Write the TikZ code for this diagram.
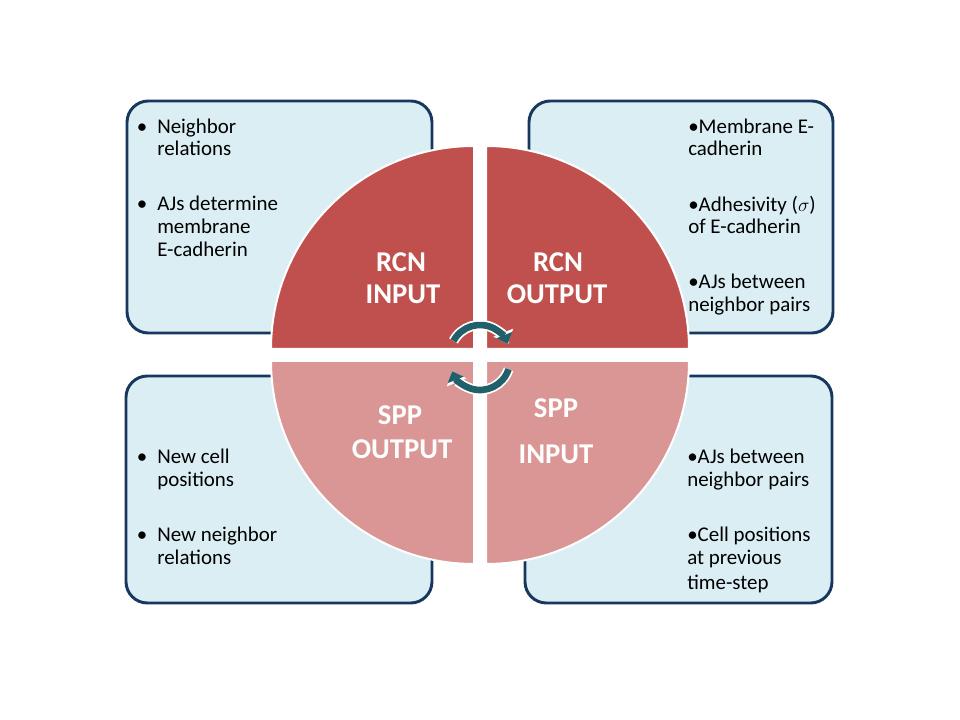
\documentclass[tikz,border=0pt]{standalone}
\usepackage{fontspec}
\setmainfont{Carlito}
\usetikzlibrary{arrows.meta}
\definecolor{quadtopc}{HTML}{C0504D}
\definecolor{quadbotc}{HTML}{D99694}
\definecolor{boxfillc}{HTML}{DBEEF4}
\definecolor{boxdrawc}{HTML}{17375E}
\definecolor{tealc}{HTML}{215F6B}
\tikzset{
  infobox/.style={fill=boxfillc, draw=boxdrawc, line width=2.2pt, rounded corners=16pt},
  quadtop/.style={fill=quadtopc, draw=white, line width=1.5pt},
  quadbot/.style={fill=quadbotc, draw=white, line width=1.5pt},
  txt/.style={anchor=base west, inner sep=0pt, text=black, font=\fontsize{15.7}{18}\selectfont},
  lbl/.style={anchor=base, inner sep=0pt, text=white, font=\fontsize{21.5}{25}\selectfont\bfseries},
  cyclearrow/.style={draw=tealc, line width=5pt, -{Triangle[length=7pt,width=12.5pt]},
    preaction={draw=white, line width=7.6pt, -{Triangle[length=9pt,width=15.5pt]}}}
}
\newcommand{\bul}{\llap{•\hspace{7.5pt}}}
\begin{document}
\begin{tikzpicture}[x=0.75pt,y=0.75pt]
\fill[white] (0,0) rectangle (960,720);
\useasboundingbox (0,0) rectangle (960,720);
% boxes
\draw[infobox] (127,387) rectangle (432,619);
\draw[infobox] (529,387) rectangle (833,619);
\draw[infobox] (126,117) rectangle (432,344);
\draw[infobox] (525,117) rectangle (832,344);
% quadrants
\path[quadtop] (474,371) -- (271,371) arc[start angle=180,end angle=90,radius=203] -- cycle;
\path[quadtop] (486,371) -- (689,371) arc[start angle=0,end angle=90,radius=203] -- cycle;
\path[quadbot] (474,359) -- (271,359) arc[start angle=180,end angle=270,radius=203] -- cycle;
\path[quadbot] (486,359) -- (689,359) arc[start angle=0,end angle=-90,radius=203] -- cycle;
% quadrant labels
\node[lbl] (rcnin1) at (401,448.5) {RCN};
\node[lbl] (rcnin2) at (403,416.5) {INPUT};
\node[lbl] (rcnout1) at (558,448.5) {RCN};
\node[lbl] (rcnout2) at (557,416.5) {OUTPUT};
\node[lbl] (sppout1) at (400,295.5) {SPP};
\node[lbl] (sppout2) at (402,261.5) {OUTPUT};
\node[lbl] (sppin1) at (556,302.5) {SPP};
\node[lbl] (sppin2) at (556,256.5) {INPUT};
% cycle arrows
\coordinate (ca) at (480,365);
\coordinate (cb) at (480,360);
\draw[cyclearrow] (ca) ++(152:30) arc[start angle=152,end angle=22,radius=30];
\draw[cyclearrow] (cb) ++(-18:30) arc[start angle=-18,end angle=-158,radius=30];
% top-left box text
\node[txt] (tl1) at (157,586.5) {\bul Neighbor};
\node[txt] (tl2) at (157,564.5) {relations};
\node[txt] (tl3) at (157,509.5) {\bul AJs determine};
\node[txt] (tl4) at (157,486.5) {membrane};
\node[txt] (tl5) at (157,463) {E-cadherin};
% top-right box text
\node[txt] (tr1) at (688,586.5) {•Membrane E-};
\node[txt] (tr2) at (688,564.5) {cadherin};
\node[txt] (tr3) at (688,508.5) {•Adhesivity ($\sigma$)};
\node[txt] (tr4) at (688,486.5) {of E-cadherin};
\node[txt] (tr5) at (688,431.5) {•AJs between};
\node[txt] (tr6) at (688,408.5) {neighbor pairs};
% bottom-left box text
\node[txt] (bl1) at (157,256.5) {\bul New cell};
\node[txt] (bl2) at (157,233.5) {positions};
\node[txt] (bl3) at (157,178.5) {\bul New neighbor};
\node[txt] (bl4) at (157,155) {relations};
% bottom-right box text
\node[txt] (br1) at (687,256.5) {•AJs between};
\node[txt] (br2) at (687,233.5) {neighbor pairs};
\node[txt] (br3) at (687,178.5) {•Cell positions};
\node[txt] (br4) at (687,155) {at previous};
\node[txt] (br5) at (687,130.5) {time-step};
\end{tikzpicture}
\end{document}
